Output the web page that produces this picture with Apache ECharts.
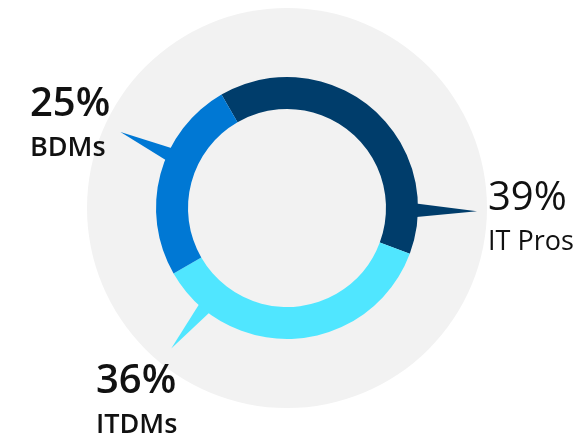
<!DOCTYPE html>
<html>
<head>
<meta charset="utf-8">
<script src="https://cdn.jsdelivr.net/npm/echarts@6/dist/echarts.min.js"></script>
<style>
  html, body { margin: 0; padding: 0; background: #ffffff; }
  #chart { width: 580px; height: 438px; }
</style>
</head>
<body>
<div id="chart"></div>
<script>
  // 数据
  const categories = ['IT Pros', 'ITDMs', 'BDMs'];
  const shares = [39, 36, 25];
  const colors = ['#003d6b', '#50e6ff', '#0078d4'];

  // 标注的楔形方向（从12点钟顺时针，度）以及标签位置
  const calloutAngles = [91, 219.5, 294.5];
  const calloutLength = [190, 182, 183];
  const labelPos = [[488, 177], [96, 360], [30, 83]];
  const pctWeight = [400, 600, 600];
  const nameWeight = [400, 600, 600];

  const cx = 287, cy = 208;
  const rInner = 99, rOuter = 131, rBack = 200;

  const chart = echarts.init(document.getElementById('chart'));

  // 楔形的三个点
  function wedge(i) {
    const a = calloutAngles[i] * Math.PI / 180;
    const dx = Math.sin(a), dy = -Math.cos(a);
    const tx = -dy, ty = dx; // 切线方向
    const rb = rOuter - 4, hw = 7;
    return [
      [cx + dx * rb + tx * hw, cy + dy * rb + ty * hw],
      [cx + dx * calloutLength[i], cy + dy * calloutLength[i]],
      [cx + dx * rb - tx * hw, cy + dy * rb - ty * hw]
    ];
  }

  chart.setOption({
    animation: false,
    graphic: categories.map((c, i) => ({
      type: 'polygon',
      z: 1,
      shape: { points: wedge(i) },
      style: { fill: colors[i] }
    })),
    series: [
      {
        type: 'pie',
        silent: true,
        z: 0,
        center: [cx, cy],
        radius: [0, rBack],
        label: { show: false },
        labelLine: { show: false },
        itemStyle: { color: '#f2f2f2' },
        data: [{ value: 1 }]
      },
      {
        type: 'pie',
        silent: true,
        z: 2,
        center: [cx, cy],
        radius: [rInner, rOuter],
        startAngle: 120,
        clockwise: true,
        labelLine: { show: false },
        data: categories.map((c, i) => ({
          name: c,
          value: shares[i],
          itemStyle: { color: colors[i] },
          label: {
            rich: {
              p: { fontSize: 40, fontWeight: pctWeight[i], lineHeight: 44, color: '#111', fontFamily: 'Open Sans' },
              n: { fontSize: 27, fontWeight: nameWeight[i], lineHeight: 42, color: '#111', fontFamily: 'Open Sans' }
            }
          }
        })),
        label: {
          show: true,
          position: 'outside',
          formatter: p => '{p|' + p.value + '%}\n{n|' + p.name + '}'
        },
        labelLayout: params => ({
          x: labelPos[params.dataIndex][0],
          y: labelPos[params.dataIndex][1],
          align: 'left',
          verticalAlign: 'top'
        })
      }
    ]
  });
</script>
</body>
</html>
